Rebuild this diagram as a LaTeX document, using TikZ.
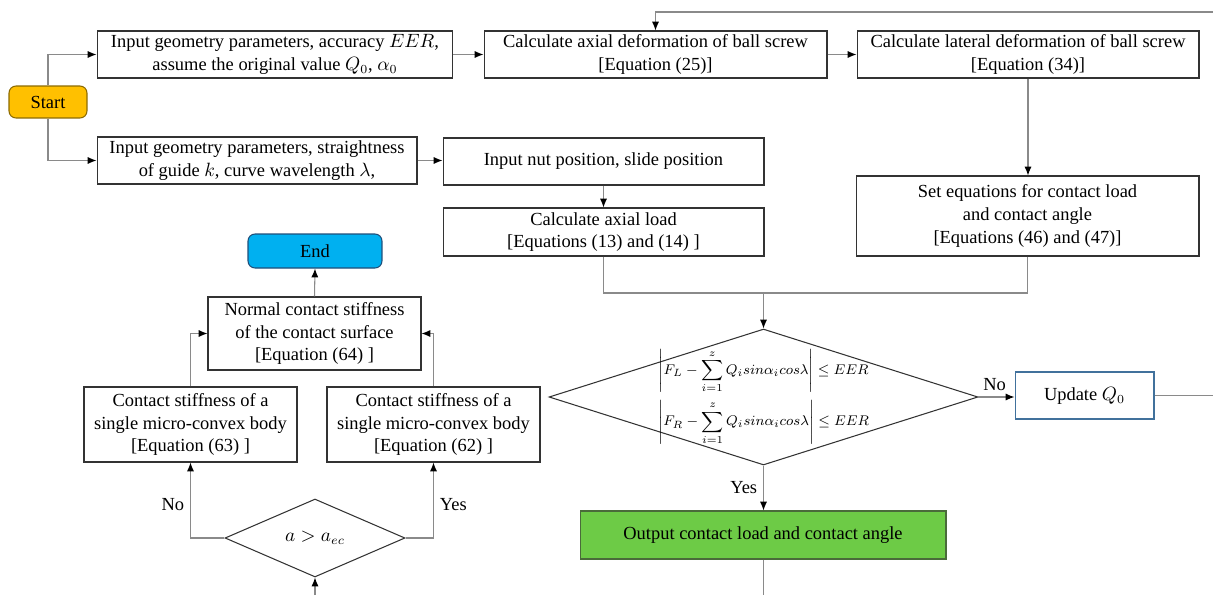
\documentclass[tikz,border=0pt]{standalone}
\usepackage{amsmath,amssymb}
\usepackage{fontspec}
\setmainfont{Liberation Serif}
\usepackage{tikz}
\usetikzlibrary{arrows.meta,shapes.geometric}
\definecolor{startfill}{HTML}{FFC000}
\definecolor{startline}{HTML}{8C6A00}
\definecolor{endfill}{HTML}{00B0F0}
\definecolor{endline}{HTML}{1F4E79}
\definecolor{outfill}{HTML}{6DCB46}
\definecolor{outline}{HTML}{4A6B3A}
\definecolor{updline}{HTML}{41719C}
\definecolor{boxline}{HTML}{333333}
\definecolor{connline}{HTML}{8A8A8A}

\begin{document}
\begin{tikzpicture}[x=0.02cm, y=-0.02cm,
      txt/.style={font=\fontsize{10.5}{13}\selectfont, align=center},
      procbox/.style={txt, draw=boxline, semithick, inner sep=1pt},
      termbox/.style={txt, draw, semithick, rounded corners=4pt, inner sep=1pt},
      testbox/.style={txt, draw=boxline, semithick, diamond, inner sep=0pt},
      line/.style={draw=connline, semithick},
      arrow/.style={line, -{Latex[length=5pt, width=4pt, color=black]}},
      branch/.style={font=\fontsize{10.5}{13}\selectfont}]

      \useasboundingbox (0,0) rectangle (1213,595);

      % --- Top row ---
      \node[termbox, fill=startfill, draw=startline, minimum width=1.56cm, minimum height=0.64cm] (start) at (48,102) {Start};
      \node[procbox, minimum width=7.12cm, minimum height=0.94cm] (inGeo) at (275,54.5)
            {Input geometry parameters, accuracy $EER$,\\ assume the original value $Q_0$, $\alpha_0$};
      \node[procbox, minimum width=6.86cm, minimum height=0.94cm] (axDef) at (655.5,54.5)
            {Calculate axial deformation of ball screw\\ {[}Equation (25)]};
      \node[procbox, minimum width=6.84cm, minimum height=0.94cm] (latDef) at (1028,54.5)
            {Calculate lateral deformation of ball screw\\ {[}Equation (34)]};

      % --- Second row ---
      \node[procbox, minimum width=6.4cm, minimum height=0.94cm] (inGuide) at (257,160.5)
            {Input geometry parameters, straightness\\ of guide $k$, curve wavelength $\lambda$,};
      \node[procbox, minimum width=6.42cm, minimum height=0.94cm] (inPos) at (603.5,161.5)
            {Input nut position, slide position};
      \node[procbox, minimum width=6.42cm, minimum height=0.96cm] (axLoad) at (603.5,232)
            {Calculate axial load\\ {[}Equations (13) and (14) ]};
      \node[procbox, minimum width=6.86cm, minimum height=1.6cm] (setEq) at (1027.5,216)
            {Set equations for contact load\\ and contact angle\\ {[}Equations (46) and (47)]};

      % --- Check and output ---
      \node[testbox, minimum width=8.58cm, minimum height=2.72cm] (check) at (763.5,397) {};
      \node[txt, font=\fontsize{8.2}{9}\selectfont, inner sep=0pt] (checkTxt) at (check.center)
            {$\displaystyle \left|F_L-\sum_{i=1}^{z}Q_i sin\alpha_i cos\lambda\right|\leq EER$\\[3pt]
             $\displaystyle \left|F_R-\sum_{i=1}^{z}Q_i sin\alpha_i cos\lambda\right|\leq EER$};
      \node[procbox, draw=updline, minimum width=2.78cm, minimum height=0.94cm] (update) at (1084.5,395.5)
            {Update $Q_0$};
      \node[procbox, fill=outfill, draw=outline, minimum width=7.32cm, minimum height=0.96cm] (output) at (763,535)
            {Output contact load and contact angle};

      % --- Contact stiffness ---
      \node[termbox, fill=endfill, draw=endline, minimum width=2.68cm, minimum height=0.68cm] (finish) at (315,251) {End};
      \node[procbox, minimum width=4.26cm, minimum height=1.46cm] (normStiff) at (314.5,333.5)
            {Normal contact stiffness\\ of the contact surface\\ {[}Equation (64) ]};
      \node[procbox, minimum width=4.26cm, minimum height=1.5cm] (stiffNo) at (190.5,424.5)
            {Contact stiffness of a\\ single micro-convex body\\ {[}Equation (63) ]};
      \node[procbox, minimum width=4.26cm, minimum height=1.5cm] (stiffYes) at (433.5,424.5)
            {Contact stiffness of a\\ single micro-convex body\\ {[}Equation (62) ]};
      \node[testbox, minimum width=3.6cm, minimum height=1.56cm] (compare) at (315,538) {$a>a_{ec}$};

      % free ends at the border
      \coordinate (loopIn) at (1213,12);
      \coordinate (loopOut) at (1213,395.5);
      \coordinate (outEnd) at (763.5,595);
      \coordinate (cmpIn) at (315,595);
      \coordinate (merge) at (763.5,293);

      % --- Connectors ---
      \draw[arrow] (start.north) |- (inGeo.west);
      \draw[arrow] (start.south) |- (inGuide.west);
      \draw[arrow] (inGeo.east) -- (axDef.west);
      \draw[arrow] (axDef.east) -- (latDef.west);
      \draw[arrow] (loopIn) -| (axDef.north);
      \draw[arrow] (latDef.south) -- (setEq.north -| latDef.south);
      \draw[arrow] (inGuide.east) -- (inGuide.east -| inPos.west);
      \draw[arrow] (inPos.south) -- (axLoad.north);
      \draw[line] (axLoad.south) |- (merge);
      \draw[line] (setEq.south) |- (merge);
      \draw[arrow] (merge) -- (check.north);
      \draw[arrow] (check.east) -- node[branch, above, pos=0.45] {No} (update.west |- check.east);
      \draw[line] (update.east) -- (loopOut);
      \draw[arrow] (check.south) -- node[branch, left, pos=0.5] {Yes} (output.north -| check.south);
      \draw[line] (output.south -| check.south) -- (outEnd);

      \draw[arrow] (normStiff.north) -- (finish.south);
      \draw[arrow] (stiffNo.north) |- (normStiff.west);
      \draw[arrow] (stiffYes.north) |- (normStiff.east);
      \draw[arrow] (compare.west) -| node[branch, left, pos=0.72] {No} (stiffNo.south);
      \draw[arrow] (compare.east) -| node[branch, right, pos=0.72] {Yes} (stiffYes.south);
      \draw[arrow] (cmpIn) -- (compare.south);

\end{tikzpicture}
\end{document}
